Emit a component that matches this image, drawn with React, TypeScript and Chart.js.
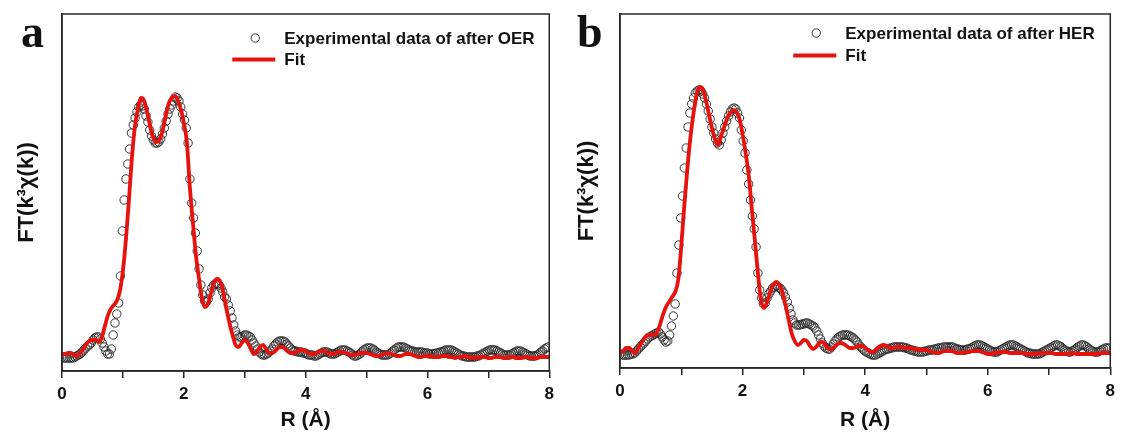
import React, { useEffect, useRef } from "react";
import { Chart, registerables } from "chart.js";

Chart.register(...registerables);

// ---------------- data ----------------
const EXP_STEP = 0.03; // R grid of the experimental points (Å)
const FIT_STEP = 0.05; // R grid of the fit curve (Å)
const X_MIN = 0;
const X_MAX = 8;
const X_LABELED_TICKS = [0, 2, 4, 6, 8];

const Y_TITLE = "FT(k³χ(k))";
const X_TITLE = "R (Å)";

const LABELS_A = ["Experimental data of after OER", "Fit"];
const LABELS_B = ["Experimental data of after HER", "Fit"];

// panel a – experimental |FT| (arbitrary units)
const expA = [
  14, 13, 13, 13, 13, 13, 13, 14, 15, 16,
  17, 19, 21, 23, 25, 26, 28, 31, 33, 34,
  34, 32, 28, 24, 20, 17, 17, 22, 36, 48,
  57, 68, 95, 140, 171, 192, 207, 222, 238, 246,
  253, 259, 264, 266, 265, 262, 255, 249, 241, 235,
  231, 228, 228, 229, 232, 237, 243, 250, 257, 262,
  266, 270, 274, 273, 270, 264, 257, 251, 243, 228,
  192, 168, 153, 138, 120, 102, 86, 76, 70, 69,
  72, 78, 83, 86, 87, 87, 86, 83, 79, 74,
  72, 66, 60, 53, 46, 40, 36, 34, 34, 35,
  36, 36, 35, 34, 31, 28, 25, 22, 19, 17,
  16, 16, 17, 18, 20, 22, 25, 27, 29, 30,
  30, 30, 29, 27, 25, 23, 21, 20, 20, 19,
  19, 19, 18, 18, 17, 16, 16, 16, 15, 15,
  16, 17, 18, 19, 19, 19, 18, 17, 17, 17,
  18, 19, 20, 21, 21, 21, 20, 19, 18, 16,
  15, 15, 16, 17, 19, 21, 22, 23, 23, 23,
  22, 21, 19, 18, 17, 16, 16, 16, 16, 17,
  18, 20, 21, 23, 24, 24, 24, 24, 23, 22,
  21, 20, 20, 19, 19, 19, 19, 19, 18, 18,
  18, 17, 17, 17, 17, 18, 18, 19, 19, 20,
  21, 21, 21, 21, 20, 19, 18, 17, 16, 15,
  15, 14, 14, 14, 14, 14, 14, 15, 15, 16,
  17, 18, 19, 20, 21, 21, 21, 21, 20, 19,
  18, 17, 16, 16, 16, 16, 17, 18, 19, 20,
  20, 20, 19, 18, 17, 16, 15, 15, 15, 15,
  16, 17, 19, 20, 22, 23, 24,
];

// panel a – fit
const fitA = [
  17, 17, 18, 18, 16, 15, 18, 22, 27, 30,
  31, 31, 29, 33, 44, 55, 62, 66, 70, 80,
  100, 132, 172, 215, 246, 263, 273, 270, 258, 244,
  233, 229, 231, 240, 254, 267, 273, 275, 271, 262,
  248, 229, 183, 148, 115, 92, 72, 64, 68, 79,
  89, 92, 89, 78, 62, 48, 36, 26, 24, 28,
  31, 28, 22, 17, 19, 24, 26, 22, 18, 18,
  20, 23, 24, 23, 20, 18, 18, 19, 21, 21,
  20, 18, 17, 17, 19, 20, 20, 19, 17, 17,
  18, 19, 19, 18, 17, 16, 16, 17, 18, 18,
  18, 17, 16, 15, 15, 16, 17, 18, 17, 16,
  15, 15, 16, 17, 17, 16, 15, 14, 14, 15,
  15, 15, 14, 14, 14, 15, 15, 14, 14, 13,
  14, 14, 15, 14, 14, 13, 13, 14, 14, 14,
  13, 13, 14, 14, 14, 13, 13, 14, 14, 13,
  13, 13, 14, 14, 13, 13, 13, 14, 14, 14,
  14,
];

// panel b – experimental
const expB = [
  14, 13, 13, 13, 13, 13, 14, 14, 15, 17,
  19, 21, 23, 25, 27, 29, 31, 32, 33, 34,
  35, 36, 34, 31, 28, 26, 27, 33, 42, 52,
  64, 95, 123, 150, 172, 200, 220, 241, 255, 264,
  270, 275, 277, 278, 277, 274, 270, 264, 257, 249,
  241, 235, 229, 225, 223, 228, 235, 241, 247, 252,
  256, 259, 260, 259, 255, 250, 238, 227, 215, 198,
  184, 168, 152, 139, 121, 95, 78, 70, 64, 65,
  70, 74, 77, 80, 81, 82, 81, 80, 78, 75,
  71, 66, 60, 54, 48, 45, 43, 43, 43, 44,
  44, 45, 45, 44, 43, 42, 40, 37, 33, 29,
  25, 22, 20, 19, 19, 21, 24, 27, 29, 31,
  32, 33, 33, 33, 33, 32, 31, 30, 28, 26,
  23, 21, 19, 17, 16, 15, 14, 13, 13, 13,
  14, 15, 16, 17, 18, 19, 19, 20, 20, 21,
  21, 21, 21, 21, 21, 20, 20, 19, 18, 18,
  17, 17, 16, 16, 16, 16, 17, 17, 18, 18,
  18, 19, 19, 20, 20, 20, 21, 21, 21, 21,
  21, 21, 20, 19, 19, 18, 18, 18, 18, 19,
  19, 20, 21, 22, 23, 23, 23, 22, 21, 20,
  19, 18, 17, 16, 16, 16, 17, 18, 19, 20,
  21, 22, 23, 23, 23, 22, 21, 20, 19, 18,
  17, 16, 15, 15, 14, 14, 14, 14, 14, 15,
  16, 17, 18, 19, 20, 21, 22, 23, 23, 22,
  21, 19, 18, 17, 16, 16, 17, 18, 19, 21,
  22, 23, 23, 22, 21, 19, 18, 17, 16, 16,
  16, 17, 18, 19, 20, 20, 20,
];

// panel b – fit
const fitB = [
  15, 17, 20, 20, 17, 15, 20, 25, 30, 33,
  33, 33, 35, 43, 53, 61, 66, 71, 76, 88,
  122, 163, 200, 231, 255, 273, 281, 279, 268, 254,
  240, 229, 223, 232, 241, 250, 255, 258, 256, 249,
  234, 215, 193, 160, 128, 95, 68, 60, 66, 76,
  83, 86, 83, 76, 63, 49, 35, 27, 23, 25,
  28, 27, 22, 19, 21, 25, 26, 23, 19, 19,
  21, 24, 25, 24, 22, 20, 20, 21, 22, 22,
  20, 18, 16, 17, 20, 22, 23, 22, 20, 20,
  21, 21, 21, 20, 20, 20, 19, 19, 18, 18,
  18, 17, 16, 15, 15, 16, 17, 17, 17, 16,
  15, 15, 15, 16, 16, 17, 17, 17, 16, 15,
  14, 14, 15, 15, 16, 16, 16, 15, 15, 15,
  15, 15, 15, 14, 14, 14, 14, 15, 15, 15,
  15, 15, 14, 14, 14, 14, 14, 15, 15, 14,
  14, 14, 14, 14, 14, 14, 14, 15, 15, 15,
  15,
];

// ---------------- styling / layout ----------------
const W = 1121;
const H = 435;
const FONT = '"Liberation Sans", Arial, Helvetica, sans-serif';
const AXIS_COLOR = "#262626";
const RED = "#e5120d";
const CIRCLE = "rgba(35,35,35,0.9)";

type PanelCfg = {
  letter: string;
  letterLeft: number;
  left: number;
  width: number;
  areaLeft: number;
  areaRight: number;
  areaTop: number;
  areaBottom: number;
  exp: number[];
  fit: number[];
  labels: string[];
  legendFromRight: number;
  legendRow1: number;
  legendRow2: number;
};

const PANELS: PanelCfg[] = [
  {
    letter: "a",
    letterLeft: 21,
    left: 0,
    width: 560,
    areaLeft: 62,
    areaRight: 551,
    areaTop: 14,
    areaBottom: 371,
    exp: expA,
    fit: fitA,
    labels: LABELS_A,
    legendFromRight: 265,
    legendRow1: 24,
    legendRow2: 45.5,
  },
  {
    letter: "b",
    letterLeft: 577,
    left: 560,
    width: 561,
    areaLeft: 60,
    areaRight: 553,
    areaTop: 14,
    areaBottom: 368,
    exp: expB,
    fit: fitB,
    labels: LABELS_B,
    legendFromRight: 265,
    legendRow1: 19,
    legendRow2: 41.5,
  },
];

const toPoints = (vals: number[], step: number) =>
  vals.map((v, i) => ({ x: +(i * step).toFixed(3), y: v }));

const frameLegendPlugin = {
  id: "frameLegend",
  afterDraw(chart: any, _args: any, opts: any) {
    const { ctx, chartArea: ca } = chart;
    ctx.save();
    // frame (top and right sides complete the box)
    ctx.strokeStyle = AXIS_COLOR;
    ctx.lineWidth = 1.5;
    ctx.strokeRect(ca.left, ca.top, ca.right - ca.left, ca.bottom - ca.top);

    // legend
    const fitDs = chart.data.datasets[0];
    const expDs = chart.data.datasets[1];
    const tx = ca.right - opts.fromRight;
    const y1 = ca.top + opts.row1;
    const y2 = ca.top + opts.row2;
    ctx.font = `bold 17px ${FONT}`;
    ctx.textBaseline = "middle";
    ctx.textAlign = "left";
    ctx.fillStyle = "#111";
    // experimental symbol
    ctx.beginPath();
    ctx.arc(tx - 29, y1, expDs.pointRadius, 0, Math.PI * 2);
    ctx.lineWidth = expDs.pointBorderWidth;
    ctx.strokeStyle = expDs.pointBorderColor;
    ctx.stroke();
    ctx.fillText(expDs.label, tx, y1 + 1);
    // fit symbol
    ctx.beginPath();
    ctx.moveTo(tx - 52, y2);
    ctx.lineTo(tx - 9, y2);
    ctx.lineWidth = fitDs.borderWidth;
    ctx.strokeStyle = fitDs.borderColor;
    ctx.stroke();
    ctx.fillText(fitDs.label, tx, y2 + 1);
    ctx.restore();
  },
};

function Panel({ cfg }: { cfg: PanelCfg }) {
  const ref = useRef<HTMLCanvasElement | null>(null);

  useEffect(() => {
    if (!ref.current) return;
    const yMax = cfg.areaBottom - cfg.areaTop;
    const chart = new Chart(ref.current, {
      type: "scatter",
      data: {
        datasets: [
          {
            label: cfg.labels[1],
            data: toPoints(cfg.fit, FIT_STEP),
            showLine: true,
            borderColor: RED,
            borderWidth: 3.8,
            pointRadius: 0,
            cubicInterpolationMode: "monotone",
            order: 0,
          } as any,
          {
            label: cfg.labels[0],
            data: toPoints(cfg.exp, EXP_STEP),
            showLine: false,
            pointRadius: 4.2,
            pointBorderWidth: 1,
            pointBorderColor: CIRCLE,
            pointBackgroundColor: "rgba(255,255,255,0)",
            order: 1,
          } as any,
        ],
      },
      options: {
        animation: false,
        responsive: false,
        events: [],
        layout: {
          padding: {
            left: 0,
            top: cfg.areaTop,
            right: cfg.width - cfg.areaRight,
            bottom: 0,
          },
        },
        plugins: {
          legend: { display: false },
          tooltip: { enabled: false },
          frameLegend: {
            fromRight: cfg.legendFromRight,
            row1: cfg.legendRow1,
            row2: cfg.legendRow2,
          },
        } as any,
        scales: {
          x: {
            type: "linear",
            min: X_MIN,
            max: X_MAX,
            afterFit: (s: any) => {
              s.height = H - cfg.areaBottom;
            },
            ticks: {
              stepSize: 1,
              autoSkip: false,
              maxRotation: 0,
              padding: 6,
              color: "#111",
              font: { family: FONT, size: 17, weight: "bold" },
              callback: (v: any) =>
                X_LABELED_TICKS.includes(Number(v)) ? String(v) : "",
            },
            grid: {
              display: true,
              drawOnChartArea: false,
              drawTicks: true,
              tickLength: 7,
              color: AXIS_COLOR,
              lineWidth: 1.5,
            },
            border: { display: true, color: AXIS_COLOR, width: 1.5 },
            title: {
              display: true,
              text: X_TITLE,
              color: "#111",
              font: { family: FONT, size: 21, weight: "bold" },
              padding: { top: 0, bottom: 2 },
            },
          },
          y: {
            type: "linear",
            min: 0,
            max: yMax,
            afterFit: (s: any) => {
              s.width = cfg.areaLeft;
            },
            ticks: { display: false },
            grid: { display: false },
            border: { display: true, color: AXIS_COLOR, width: 1.5 },
            title: {
              display: true,
              text: Y_TITLE,
              color: "#111",
              font: { family: FONT, size: 22, weight: "bold" },
              padding: { top: 14, bottom: 0 },
            },
          },
        },
      } as any,
      plugins: [frameLegendPlugin],
    });
    return () => chart.destroy();
  }, [cfg]);

  return (
    <canvas
      ref={ref}
      width={cfg.width}
      height={H}
      style={{
        position: "absolute",
        left: cfg.left,
        top: 0,
        width: cfg.width,
        height: H,
        display: "block",
      }}
    />
  );
}

export default function App() {
  return (
    <div
      style={{
        position: "absolute",
        left: 0,
        top: 0,
        width: W,
        height: H,
        background: "#ffffff",
        overflow: "hidden",
      }}
    >
      {PANELS.map((p) => (
        <Panel key={p.letter} cfg={p} />
      ))}
      {PANELS.map((p) => (
        <div
          key={"l" + p.letter}
          style={{
            position: "absolute",
            left: p.letterLeft,
            top: 10,
            fontFamily: '"Liberation Serif", "Times New Roman", serif',
            fontWeight: "bold",
            fontSize: 46,
            lineHeight: "44px",
            color: "#111",
          }}
        >
          {p.letter}
        </div>
      ))}
    </div>
  );
}
